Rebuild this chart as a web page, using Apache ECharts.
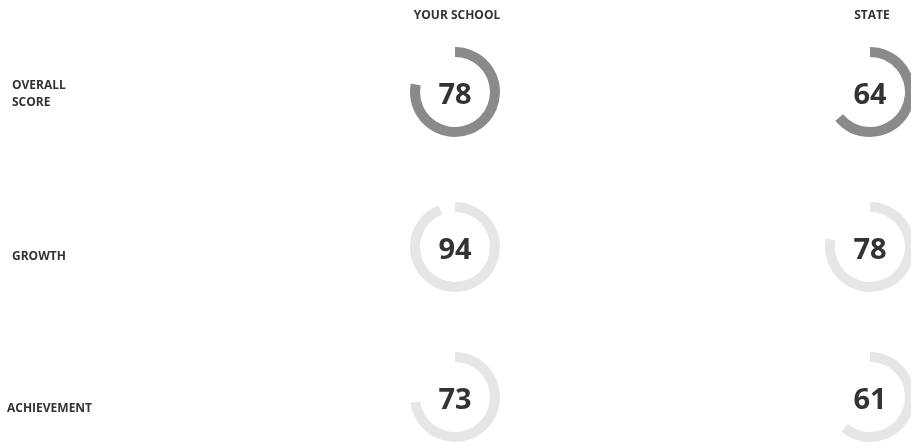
<!DOCTYPE html>
<html>
<head>
<meta charset="utf-8">
<script src="https://cdn.jsdelivr.net/npm/echarts@6/dist/echarts.min.js"></script>
<style>
  html, body { margin: 0; padding: 0; background: #fff; }
  #chart { width: 911px; height: 446px; }
</style>
</head>
<body>
<div id="chart"></div>
<script>
const rowLabels = ['OVERALL\nSCORE', 'GROWTH', 'ACHIEVEMENT']
const columnLabels = ['YOUR SCHOOL', 'STATE']
const schoolValues = [78, 94, 73]
const stateValues = [64, 78, 61]

// layout
const colX = [455, 870]
const rowY = [92, 247, 397]
const labelPos = [[12, 94], [12, 257], [7, 409]]
const ringColors = ['#8a8a8a', '#e6e6e6', '#e6e6e6']
const font = '"Open Sans", "DejaVu Sans", sans-serif'

const chart = echarts.init(document.getElementById('chart'))

const makeGauge = (value, cx, cy, color) => ({
  type: 'gauge',
  center: [cx, cy],
  radius: 45,
  startAngle: 90,
  endAngle: -270,
  min: 0,
  max: 100,
  pointer: { show: false },
  progress: { show: true, width: 10, itemStyle: { color } },
  axisLine: { lineStyle: { width: 10, color: [[1, 'rgba(0,0,0,0)']] } },
  splitLine: { show: false },
  axisTick: { show: false },
  axisLabel: { show: false },
  title: { show: false },
  detail: {
    offsetCenter: [0, 4],
    fontSize: 29,
    fontWeight: 'bold',
    fontFamily: font,
    color: '#333'
  },
  data: [{ value }]
})

const series = []
rowLabels.forEach((_, i) => {
  series.push(makeGauge(schoolValues[i], colX[0], rowY[i], ringColors[i]))
  series.push(makeGauge(stateValues[i], colX[1], rowY[i], ringColors[i]))
})

const graphic = []
columnLabels.forEach((text, i) => {
  graphic.push({
    type: 'text',
    x: colX[i] + 2,
    y: 16,
    style: { text, font: `bold 12px ${font}`, fill: '#333', align: 'center', verticalAlign: 'middle' }
  })
})
rowLabels.forEach((text, i) => {
  graphic.push({
    type: 'text',
    x: labelPos[i][0],
    y: labelPos[i][1],
    style: { text, font: `bold 12px ${font}`, lineHeight: 17, fill: '#333', align: 'left', verticalAlign: 'middle' }
  })
})

chart.setOption({
  animation: false,
  graphic,
  series
})
</script>
</body>
</html>
